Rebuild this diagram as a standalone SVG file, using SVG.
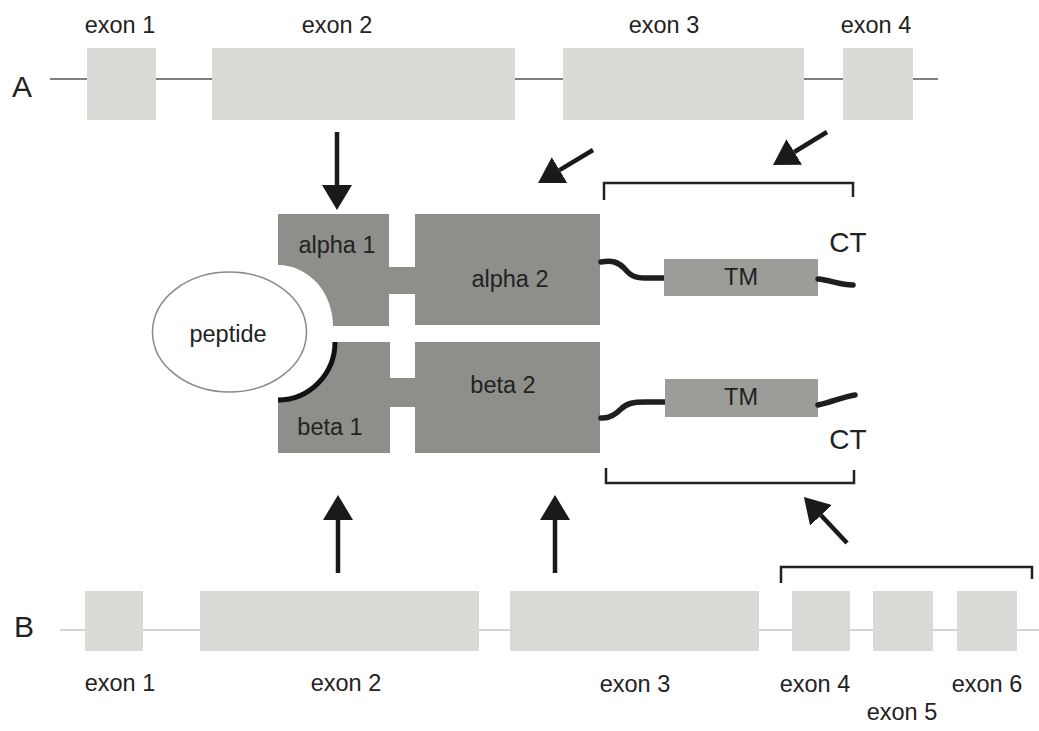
<svg xmlns="http://www.w3.org/2000/svg" width="1039" height="731" viewBox="0 0 1039 731">
<style>
text{font-family:"Liberation Sans",Arial,sans-serif;fill:#222}
.lbl{font-size:23.5px;text-anchor:middle}
.big{font-size:30px;text-anchor:middle}
.ct{font-size:28px;text-anchor:middle}
.exon{fill:#d9d9d6}
.prot{fill:#8e8f8a}
.tm{fill:#9c9d99}
.arr{stroke:#1a1a1a;stroke-width:4.5;fill:none}
.brk{stroke:#222;stroke-width:2.5;fill:none}
.sq{stroke:#1e1e1e;stroke-width:5.5;fill:none;stroke-linecap:round}
</style>
<defs>
<marker id="ah" viewBox="0 0 25 30" refX="0" refY="15" markerWidth="25" markerHeight="30" markerUnits="userSpaceOnUse" orient="auto">
<path d="M0,0 L25,15 L0,30 Z" fill="#1a1a1a"/>
</marker>
</defs>
<g id="geneA">
<line x1="50" y1="79" x2="938" y2="79" stroke="#555" stroke-width="1.3"/>
<text x="22" y="97" class="big">A</text>
<rect class="exon" x="87" y="48" width="69" height="72"/>
<rect class="exon" x="212" y="48" width="303" height="72"/>
<rect class="exon" x="563" y="48" width="241" height="72"/>
<rect class="exon" x="843" y="48" width="70" height="72"/>
<text x="120" y="33" class="lbl">exon 1</text>
<text x="337" y="33" class="lbl">exon 2</text>
<text x="664" y="33" class="lbl">exon 3</text>
<text x="876" y="33" class="lbl">exon 4</text>
</g>
<g id="geneB">
<line x1="60" y1="630" x2="1039" y2="630" stroke="#aaa" stroke-width="1.2"/>
<text x="24" y="637" class="big">B</text>
<rect class="exon" x="85" y="591" width="58" height="60"/>
<rect class="exon" x="200" y="591" width="279" height="60"/>
<rect class="exon" x="510" y="591" width="249" height="60"/>
<rect class="exon" x="792" y="591" width="58" height="60"/>
<rect class="exon" x="873" y="591" width="60" height="60"/>
<rect class="exon" x="957" y="591" width="60" height="60"/>
<text x="120" y="691" class="lbl">exon 1</text>
<text x="346" y="691" class="lbl">exon 2</text>
<text x="635" y="692" class="lbl">exon 3</text>
<text x="815" y="692" class="lbl">exon 4</text>
<text x="987" y="692" class="lbl">exon 6</text>
<text x="902" y="720" class="lbl">exon 5</text>
</g>
<g id="peptide">
<ellipse cx="229.5" cy="332" rx="77" ry="60" fill="#fff" stroke="#8a8a8a" stroke-width="1.5"/>
<text x="228" y="342" class="lbl">peptide</text>
</g>
<g id="alpha1">
<path class="prot" d="M278,214 H389 V326 H333 A55,61 0 0 0 278,265 Z"/>
<text x="337" y="253" class="lbl">alpha 1</text>
</g>
<g id="alpha2">
<rect class="prot" x="388" y="267" width="28" height="27"/>
<rect class="prot" x="415" y="214" width="185" height="111"/>
<text x="510" y="287" class="lbl">alpha 2</text>
</g>
<g id="beta1">
<path class="prot" d="M335,342 H390 V453 H278 V400 A57,58 0 0 0 335,342 Z"/>
<path d="M278,400 A57,58 0 0 0 335,342" fill="none" stroke="#111" stroke-width="5"/>
<text x="330" y="435" class="lbl">beta 1</text>
</g>
<g id="beta2">
<rect class="prot" x="389" y="378" width="27" height="29"/>
<rect class="prot" x="415" y="342" width="185" height="111"/>
<text x="503" y="393" class="lbl">beta 2</text>
</g>
<g id="tmA">
<path class="sq" d="M601,262 C612,260 618,262 624,268 C630,275 634,278 645,278 L664,278"/>
<rect class="tm" x="664" y="259" width="154" height="37"/>
<text x="741" y="285" class="lbl">TM</text>
<path class="sq" d="M818,279 C830,280 840,285 853,285"/>
<text x="848" y="252" class="ct">CT</text>
</g>
<g id="tmB">
<path class="sq" d="M601,418 C610,419 616,414 621,409 C627,403 634,402 645,402 L665,402"/>
<rect class="tm" x="665" y="379" width="153" height="38"/>
<text x="741" y="405" class="lbl">TM</text>
<path class="sq" d="M818,405 C832,402 842,397 855,395"/>
<text x="848" y="449" class="ct">CT</text>
</g>
<g id="connectors">
<path class="brk" d="M604,200 V183 H853 V197"/>
<path class="brk" d="M606,468 V483 H854 V470"/>
<path class="brk" d="M781,583 V567 H1032 V579"/>
<line class="arr" x1="337" y1="132" x2="337" y2="185" marker-end="url(#ah)"/>
<line class="arr" x1="338" y1="573" x2="338" y2="520" marker-end="url(#ah)"/>
<line class="arr" x1="555" y1="573" x2="555" y2="520" marker-end="url(#ah)"/>
<line class="arr" x1="593" y1="150" x2="559.5" y2="170.1" marker-end="url(#ah)"/>
<line class="arr" x1="827" y1="132" x2="794.3" y2="152" marker-end="url(#ah)"/>
<line class="arr" x1="847" y1="543" x2="821" y2="515.3" marker-end="url(#ah)"/>
</g>
</svg>
